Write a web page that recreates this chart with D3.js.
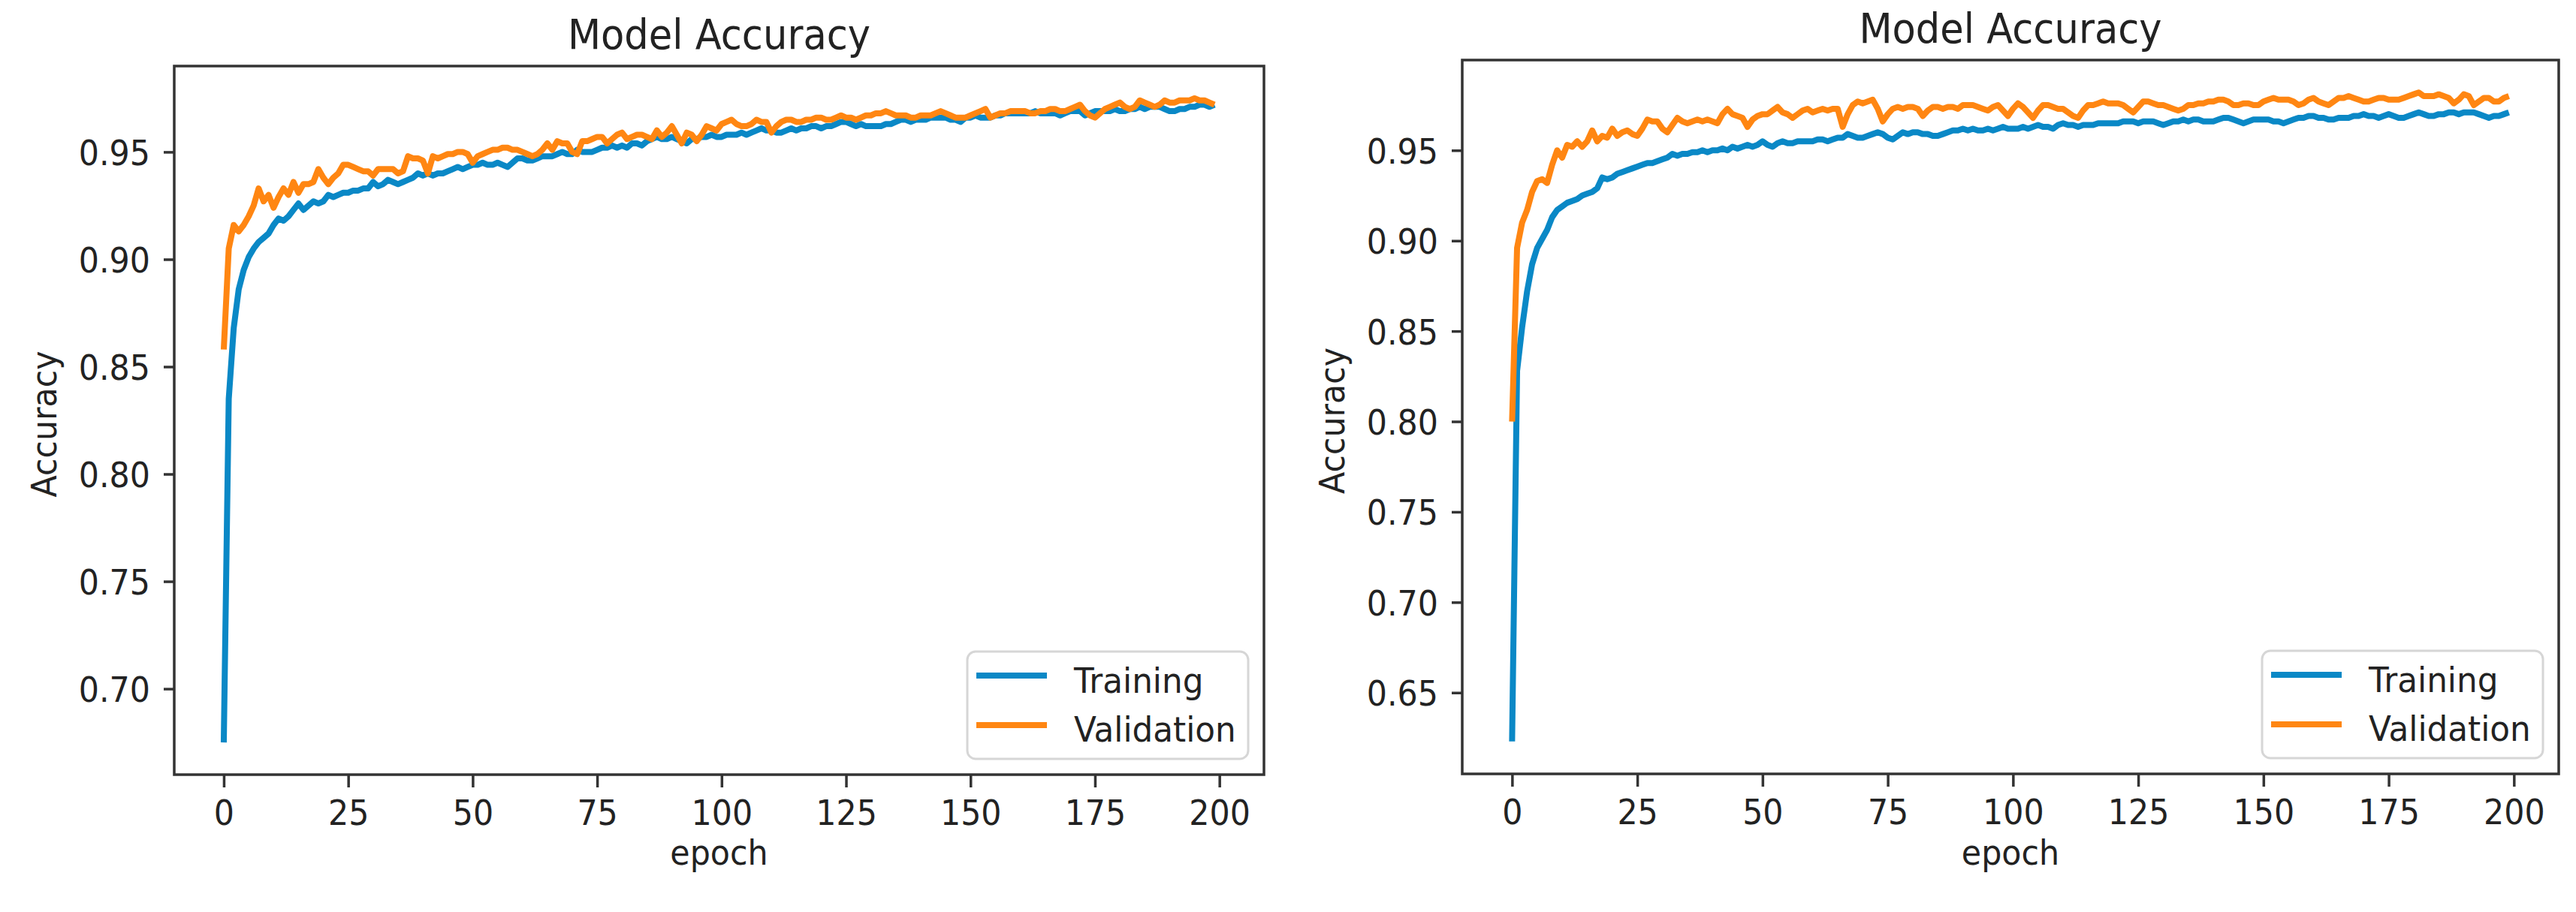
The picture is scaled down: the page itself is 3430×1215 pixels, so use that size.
<!DOCTYPE html>
<html>
<head>
  <meta charset="utf-8">
  <title>Model Accuracy</title>
  <style>
    body {margin:0; background:#fff;}
    svg.acc text {font-family: "DejaVu Sans", sans-serif; fill:#222;}
    svg.acc .spine {fill:none; stroke:#333; stroke-width:3.5;}
    svg.acc .tick line {stroke:#333; stroke-width:3.5;}
    svg.acc path.series {fill:none; stroke-width:8; stroke-linejoin:round; stroke-linecap:butt;}
  </style>
</head>
<body>
<script src="https://cdn.jsdelivr.net/npm/d3@7"></script>
<script>
  // values, one per epoch (0..199)
  var leftTrain = [
    0.675, 0.835, 0.868, 0.886, 0.895, 0.901, 0.905, 0.908, 0.910, 0.912,
    0.916, 0.919, 0.918, 0.920, 0.923, 0.926, 0.923, 0.925, 0.927, 0.926,
    0.927, 0.930, 0.929, 0.930, 0.931, 0.931, 0.932, 0.932, 0.933, 0.933,
    0.936, 0.934, 0.935, 0.937, 0.936, 0.935, 0.936, 0.937, 0.938, 0.940,
    0.939, 0.940, 0.939, 0.940, 0.940, 0.941, 0.942, 0.943, 0.942, 0.943,
    0.944, 0.944, 0.945, 0.944, 0.944, 0.945, 0.944, 0.943, 0.945, 0.947,
    0.947, 0.946, 0.946, 0.947, 0.948, 0.948, 0.948, 0.949, 0.950, 0.949,
    0.949, 0.951, 0.950, 0.950, 0.950, 0.951, 0.952, 0.952, 0.953, 0.952,
    0.953, 0.952, 0.954, 0.954, 0.953, 0.955, 0.956, 0.957, 0.956, 0.956,
    0.957, 0.956, 0.955, 0.954, 0.956, 0.956, 0.957, 0.957, 0.958, 0.957,
    0.957, 0.958, 0.958, 0.958, 0.959, 0.958, 0.959, 0.960, 0.961, 0.960,
    0.960, 0.959, 0.959, 0.960, 0.961, 0.960, 0.961, 0.961, 0.962, 0.962,
    0.961, 0.962, 0.962, 0.963, 0.964, 0.964, 0.963, 0.962, 0.963, 0.962,
    0.962, 0.962, 0.962, 0.963, 0.963, 0.964, 0.965, 0.965, 0.964, 0.965,
    0.965, 0.965, 0.966, 0.966, 0.966, 0.966, 0.965, 0.965, 0.964, 0.966,
    0.966, 0.967, 0.966, 0.966, 0.966, 0.967, 0.967, 0.968, 0.968, 0.968,
    0.968, 0.968, 0.968, 0.969, 0.968, 0.968, 0.968, 0.968, 0.967, 0.968,
    0.969, 0.969, 0.969, 0.967, 0.968, 0.969, 0.969, 0.969, 0.969, 0.970,
    0.969, 0.969, 0.970, 0.970, 0.971, 0.970, 0.971, 0.971, 0.971, 0.970,
    0.969, 0.969, 0.970, 0.970, 0.971, 0.971, 0.972, 0.972, 0.971, 0.972
  ];

  var leftVal = [
    0.858, 0.905, 0.916, 0.913, 0.916, 0.920, 0.925, 0.933, 0.927, 0.930,
    0.924, 0.929, 0.933, 0.930, 0.936, 0.931, 0.935, 0.935, 0.936, 0.942,
    0.938, 0.935, 0.938, 0.940, 0.944, 0.944, 0.943, 0.942, 0.941, 0.941,
    0.939, 0.942, 0.942, 0.942, 0.942, 0.940, 0.941, 0.948, 0.947, 0.947,
    0.946, 0.940, 0.948, 0.947, 0.948, 0.949, 0.949, 0.950, 0.950, 0.949,
    0.945, 0.948, 0.949, 0.950, 0.951, 0.951, 0.952, 0.952, 0.951, 0.951,
    0.950, 0.949, 0.948, 0.949, 0.951, 0.954, 0.951, 0.955, 0.954, 0.954,
    0.950, 0.949, 0.955, 0.955, 0.956, 0.957, 0.957, 0.954, 0.956, 0.958,
    0.959, 0.956, 0.957, 0.958, 0.958, 0.957, 0.956, 0.960, 0.957, 0.959,
    0.962, 0.958, 0.954, 0.959, 0.958, 0.955, 0.958, 0.962, 0.961, 0.960,
    0.963, 0.964, 0.965, 0.963, 0.962, 0.962, 0.963, 0.965, 0.964, 0.964,
    0.959, 0.962, 0.964, 0.965, 0.965, 0.964, 0.964, 0.965, 0.965, 0.966,
    0.966, 0.965, 0.965, 0.966, 0.967, 0.966, 0.966, 0.965, 0.966, 0.967,
    0.967, 0.968, 0.968, 0.969, 0.968, 0.967, 0.967, 0.967, 0.966, 0.966,
    0.967, 0.967, 0.967, 0.968, 0.969, 0.968, 0.967, 0.966, 0.966, 0.966,
    0.967, 0.968, 0.969, 0.970, 0.966, 0.967, 0.968, 0.968, 0.969, 0.969,
    0.969, 0.969, 0.968, 0.968, 0.969, 0.969, 0.970, 0.970, 0.969, 0.969,
    0.970, 0.971, 0.972, 0.969, 0.967, 0.966, 0.968, 0.970, 0.971, 0.972,
    0.973, 0.971, 0.970, 0.971, 0.974, 0.973, 0.972, 0.971, 0.972, 0.974,
    0.973, 0.973, 0.974, 0.974, 0.974, 0.975, 0.974, 0.974, 0.973, 0.972
  ];

  var rightTrain = [
    0.623, 0.828, 0.852, 0.872, 0.887, 0.896, 0.901, 0.906, 0.913, 0.917,
    0.919, 0.921, 0.922, 0.923, 0.925, 0.926, 0.927, 0.929, 0.935, 0.934,
    0.935, 0.937, 0.938, 0.939, 0.940, 0.941, 0.942, 0.943, 0.943, 0.944,
    0.945, 0.946, 0.948, 0.947, 0.948, 0.948, 0.949, 0.949, 0.950, 0.949,
    0.950, 0.950, 0.951, 0.950, 0.952, 0.951, 0.952, 0.953, 0.952, 0.953,
    0.955, 0.953, 0.952, 0.954, 0.955, 0.954, 0.954, 0.955, 0.955, 0.955,
    0.955, 0.956, 0.956, 0.955, 0.956, 0.957, 0.957, 0.959, 0.958, 0.957,
    0.957, 0.958, 0.959, 0.960, 0.959, 0.957, 0.956, 0.958, 0.960, 0.959,
    0.960, 0.960, 0.959, 0.959, 0.958, 0.958, 0.959, 0.960, 0.961, 0.961,
    0.962, 0.961, 0.962, 0.961, 0.961, 0.962, 0.961, 0.962, 0.963, 0.962,
    0.962, 0.962, 0.963, 0.962, 0.963, 0.964, 0.963, 0.963, 0.962, 0.964,
    0.965, 0.964, 0.964, 0.963, 0.964, 0.964, 0.964, 0.965, 0.965, 0.965,
    0.965, 0.965, 0.966, 0.966, 0.966, 0.965, 0.966, 0.966, 0.966, 0.965,
    0.964, 0.965, 0.966, 0.966, 0.967, 0.966, 0.967, 0.967, 0.966, 0.966,
    0.966, 0.967, 0.968, 0.968, 0.967, 0.966, 0.965, 0.966, 0.967, 0.967,
    0.967, 0.967, 0.966, 0.966, 0.965, 0.966, 0.967, 0.968, 0.968, 0.969,
    0.969, 0.968, 0.968, 0.967, 0.967, 0.968, 0.968, 0.968, 0.969, 0.969,
    0.970, 0.969, 0.969, 0.968, 0.969, 0.970, 0.969, 0.968, 0.968, 0.969,
    0.970, 0.971, 0.970, 0.969, 0.969, 0.970, 0.970, 0.971, 0.971, 0.970,
    0.971, 0.971, 0.971, 0.970, 0.969, 0.968, 0.969, 0.969, 0.970, 0.971
  ];

  var rightVal = [
    0.800, 0.896, 0.910, 0.917, 0.927, 0.933, 0.934, 0.932, 0.942, 0.950,
    0.946, 0.953, 0.952, 0.955, 0.952, 0.955, 0.961, 0.955, 0.958, 0.957,
    0.962, 0.958, 0.960, 0.961, 0.959, 0.958, 0.962, 0.967, 0.966, 0.966,
    0.962, 0.960, 0.964, 0.968, 0.966, 0.965, 0.966, 0.967, 0.966, 0.967,
    0.966, 0.965, 0.970, 0.973, 0.970, 0.969, 0.968, 0.963, 0.967, 0.969,
    0.970, 0.970, 0.972, 0.974, 0.971, 0.970, 0.968, 0.970, 0.972, 0.973,
    0.971, 0.972, 0.973, 0.972, 0.973, 0.973, 0.963, 0.970, 0.975, 0.977,
    0.976, 0.977, 0.978, 0.973, 0.966, 0.970, 0.973, 0.974, 0.973, 0.974,
    0.974, 0.973, 0.969, 0.972, 0.974, 0.974, 0.973, 0.974, 0.974, 0.973,
    0.975, 0.975, 0.975, 0.974, 0.973, 0.972, 0.974, 0.975, 0.972, 0.969,
    0.973, 0.976, 0.974, 0.971, 0.968, 0.972, 0.975, 0.975, 0.974, 0.973,
    0.973, 0.971, 0.969, 0.968, 0.972, 0.975, 0.975, 0.976, 0.977, 0.976,
    0.976, 0.976, 0.975, 0.973, 0.971, 0.974, 0.977, 0.977, 0.976, 0.975,
    0.975, 0.974, 0.973, 0.972, 0.973, 0.975, 0.975, 0.976, 0.976, 0.977,
    0.977, 0.978, 0.978, 0.977, 0.975, 0.975, 0.976, 0.976, 0.975, 0.975,
    0.977, 0.978, 0.979, 0.978, 0.978, 0.978, 0.977, 0.975, 0.976, 0.978,
    0.979, 0.977, 0.976, 0.975, 0.977, 0.979, 0.979, 0.980, 0.979, 0.978,
    0.977, 0.977, 0.978, 0.979, 0.979, 0.978, 0.978, 0.978, 0.979, 0.980,
    0.981, 0.982, 0.980, 0.980, 0.980, 0.981, 0.980, 0.979, 0.976, 0.978,
    0.981, 0.980, 0.975, 0.977, 0.979, 0.979, 0.977, 0.977, 0.979, 0.980
  ];

  var xTicks      = [0, 25, 50, 75, 100, 125, 150, 175, 200];
  var leftYTicks  = [0.70, 0.75, 0.80, 0.85, 0.90, 0.95];
  var rightYTicks = [0.65, 0.70, 0.75, 0.80, 0.85, 0.90, 0.95];
  var seriesNames = ['Training', 'Validation'];
  var seriesColors = ['#0a88c6', '#ff8612'];

  var width = 3430,
      height = 1215,
      squeeze = 0.93,   // glyphs in the picture are a little narrow
      fontSize = 46;

  var panels = [
    {series: [leftTrain, leftVal],   yTicks: leftYTicks,  l: 232,  r: 1683, t: 88, b: 1032},
    {series: [rightTrain, rightVal], yTicks: rightYTicks, l: 1947, r: 3407, t: 80, b: 1031}
  ];

  var svg = d3.select('body')
    .append('svg')
    .attr('class', 'acc')
    .attr('width', width)
    .attr('height', height);

  // text placed at x,y then narrowed around its anchor
  function label(g, x, y, str, size, anchor, rotate){
    return g.append('text')
      .attr('transform', 'translate(' + x + ',' + y + ')' + (rotate ? ' rotate(' + rotate + ')' : '') + ' scale(' + squeeze + ',1)')
      .attr('text-anchor', anchor || 'middle')
      .style('font-size', size + 'px')
      .text(str);
  }

  // matplotlib style 5% margins
  function padded(lo, hi){
    var m = (hi - lo) * 0.05;
    return [lo - m, hi + m];
  }

  panels.forEach(function(p){
    var g = svg.append('g');
    var all = p.series[0].concat(p.series[1]);

    var x = d3.scaleLinear()
      .domain(padded(0, p.series[0].length - 1))
      .range([p.l, p.r]);

    var y = d3.scaleLinear()
      .domain(padded(d3.min(all), d3.max(all)))
      .range([p.b, p.t]);

    var line = d3.line()
      .x(function(d, i){ return x(i); })
      .y(function(d){ return y(d); });

    g.selectAll('path.series')
      .data(p.series)
      .enter().append('path')
      .attr('class', 'series')
      .attr('stroke', function(d, i){ return seriesColors[i]; })
      .attr('d', line);

    // axes
    var xAxis = g.append('g')
      .attr('transform', 'translate(0,' + p.b + ')')
      .call(d3.axisBottom(x).tickValues(xTicks).tickSize(17).tickFormat(d3.format('d')));

    xAxis.selectAll('.tick text')
      .attr('y', 34)
      .attr('transform', 'scale(' + squeeze + ',1)')
      .style('font-size', fontSize + 'px');

    var yAxis = g.append('g')
      .attr('transform', 'translate(' + p.l + ',0)')
      .call(d3.axisLeft(y).tickValues(p.yTicks).tickSize(14).tickFormat(d3.format('.2f')));

    yAxis.selectAll('.tick text')
      .attr('x', -32 / squeeze)
      .attr('dy', '0.37em')
      .attr('transform', 'scale(' + squeeze + ',1)')
      .style('font-size', fontSize + 'px');

    g.selectAll('.domain').remove();
    g.selectAll('.tick text').style('fill', '#222').attr('font-family', null);

    g.append('rect')
      .attr('class', 'spine')
      .attr('x', p.l)
      .attr('y', p.t)
      .attr('width', p.r - p.l)
      .attr('height', p.b - p.t);

    var cx = (p.l + p.r) / 2,
        cy = (p.t + p.b) / 2;

    label(g, cx, p.t - 23, 'Model Accuracy', 55);
    label(g, cx, 1152, 'epoch', fontSize);
    label(g, p.l - 157, cy + 5, 'Accuracy', fontSize, 'middle', -90);

    // legend, lower right
    var lw = 374, lh = 143,
        lx = p.r - 21 - lw,
        ly = p.b - 21 - lh;

    var leg = g.append('g').attr('transform', 'translate(' + lx + ',' + ly + ')');

    leg.append('rect')
      .attr('width', lw)
      .attr('height', lh)
      .attr('rx', 11)
      .style('fill', 'rgba(255,255,255,0.8)')
      .style('stroke', '#d6d6d6')
      .style('stroke-width', 3);

    seriesNames.forEach(function(name, i){
      leg.append('line')
        .attr('x1', 12)
        .attr('x2', 106)
        .attr('y1', 32 + i * 66)
        .attr('y2', 32 + i * 66)
        .style('stroke', seriesColors[i])
        .style('stroke-width', 8);

      label(leg, 142, 55 + i * 65, name, fontSize + 1, 'start');
    });
  });
</script>
</body>
</html>
